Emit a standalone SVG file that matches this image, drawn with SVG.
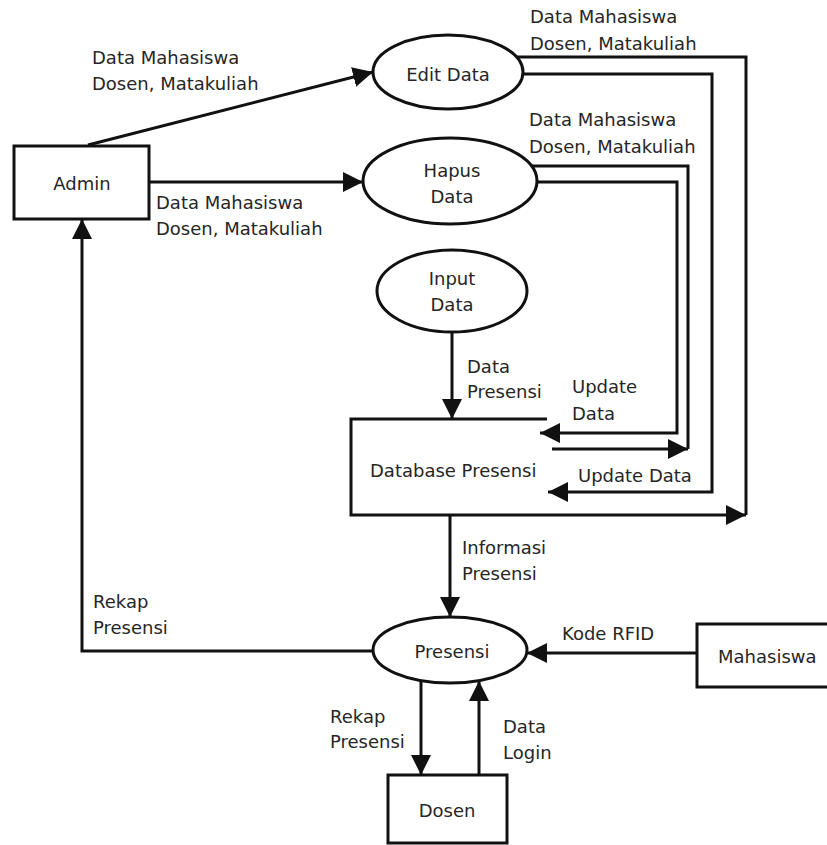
<svg xmlns="http://www.w3.org/2000/svg" width="827" height="845" viewBox="0 0 827 845">
  <style>
    .shape { fill: #fff; stroke: #111; stroke-width: 3; }
    .flow { fill: none; stroke: #111; stroke-width: 3; }
    .arrow { fill: none; stroke: #111; stroke-width: 3; marker-end: url(#head); }
    text { font-family: "DejaVu Sans", Verdana, sans-serif; font-size: 18px; fill: #262626; }
    .c { text-anchor: middle; }
  </style>
  <defs>
    <marker id="head" markerUnits="userSpaceOnUse" markerWidth="20" markerHeight="20" refX="20" refY="10" orient="auto">
      <path d="M0,0 L20,10 L0,20 z" fill="#111"/>
    </marker>
  </defs>
  <rect width="827" height="845" fill="#fff"/>

  <!-- data flows -->
  <g id="connectors">
    <!-- Admin to Edit Data / Hapus Data -->
    <path class="arrow" d="M88,145 L373,72"/>
    <path class="arrow" d="M149,182 H363"/>
    <!-- Edit Data to the database -->
    <path class="flow" d="M515,57 H746 V515"/>
    <path class="arrow" d="M522,74 H712 V492 H548"/>
    <!-- Hapus Data to the database -->
    <path class="flow" d="M530,166 H688 V449"/>
    <path class="arrow" d="M552,449 H688"/>
    <path class="arrow" d="M537,182 H677 V433 H540"/>
    <!-- Input Data to the database -->
    <path class="arrow" d="M452,332 V419"/>
    <!-- database outline with outgoing flow -->
    <path class="arrow" d="M547,419 H351 V515 H746"/>
    <!-- database to Presensi -->
    <path class="arrow" d="M450,515 V617"/>
    <!-- Presensi back to Admin -->
    <path class="arrow" d="M373,651 H82 V219"/>
    <!-- Mahasiswa to Presensi -->
    <path class="arrow" d="M697,653 H527"/>
    <!-- Presensi and Dosen -->
    <path class="arrow" d="M421,681 V775"/>
    <path class="arrow" d="M479,775 V681"/>
  </g>

  <g id="admin">
    <rect class="shape" x="14" y="146" width="135" height="73"/>
    <text class="c" x="82" y="190">Admin</text>
  </g>

  <g id="edit-data">
    <ellipse class="shape" cx="448" cy="72" rx="75" ry="37"/>
    <text class="c" x="448" y="81">Edit Data</text>
  </g>

  <g id="hapus-data">
    <ellipse class="shape" cx="450" cy="181" rx="87" ry="43"/>
    <text class="c" x="452" y="177">Hapus</text>
    <text class="c" x="452" y="203">Data</text>
  </g>

  <g id="input-data">
    <ellipse class="shape" cx="452" cy="291" rx="75" ry="41"/>
    <text class="c" x="452" y="285">Input</text>
    <text class="c" x="452" y="311">Data</text>
  </g>

  <g id="database-presensi">
    <text x="370" y="477">Database Presensi</text>
  </g>

  <g id="presensi">
    <ellipse class="shape" cx="450" cy="650" rx="77" ry="33"/>
    <text class="c" x="452" y="658">Presensi</text>
  </g>

  <g id="mahasiswa">
    <rect class="shape" x="697" y="624" width="135" height="63"/>
    <text x="718" y="663">Mahasiswa</text>
  </g>

  <g id="dosen">
    <rect class="shape" x="388" y="775" width="119" height="68"/>
    <text class="c" x="447" y="817">Dosen</text>
  </g>

  <!-- flow labels -->
  <g id="labels">
    <text x="92" y="64">Data Mahasiswa</text>
    <text x="92" y="90">Dosen, Matakuliah</text>
    <text x="156" y="209">Data Mahasiswa</text>
    <text x="156" y="235">Dosen, Matakuliah</text>
    <text x="530" y="23">Data Mahasiswa</text>
    <text x="530" y="50">Dosen, Matakuliah</text>
    <text x="529" y="126">Data Mahasiswa</text>
    <text x="529" y="153">Dosen, Matakuliah</text>
    <text x="467" y="373">Data</text>
    <text x="467" y="398">Presensi</text>
    <text x="572" y="393">Update</text>
    <text x="572" y="420">Data</text>
    <text x="578" y="482">Update Data</text>
    <text x="462" y="554">Informasi</text>
    <text x="462" y="580">Presensi</text>
    <text x="562" y="640">Kode RFID</text>
    <text x="93" y="608">Rekap</text>
    <text x="93" y="634">Presensi</text>
    <text x="330" y="723">Rekap</text>
    <text x="330" y="748">Presensi</text>
    <text x="503" y="733">Data</text>
    <text x="503" y="759">Login</text>
  </g>
</svg>
